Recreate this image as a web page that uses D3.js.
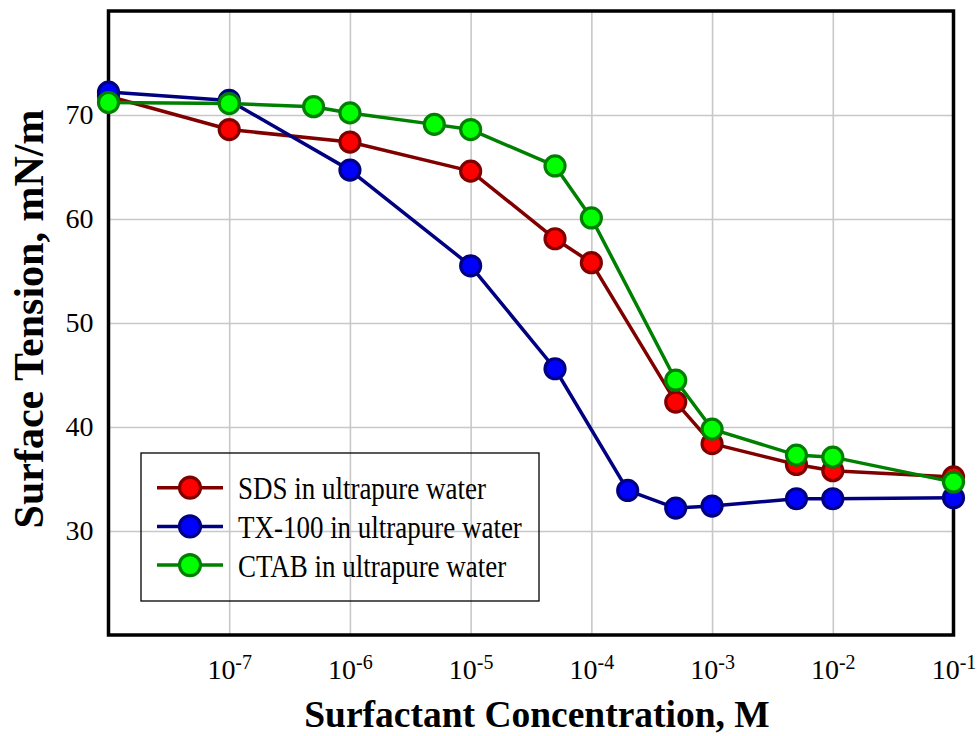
<!DOCTYPE html>
<html><head><meta charset="utf-8">
<script src="https://cdn.jsdelivr.net/npm/d3@7"></script>
<style>body{margin:0;background:#fff;} svg{display:block;}</style>
</head><body>
<svg id="chart" width="979" height="736"></svg>
<script>
// ---- data ----
const sdsConc = [1e-8, 1e-7, 1e-6, 1e-5, 5e-5, 1e-4, 5e-4, 1e-3, 5e-3, 1e-2, 1e-1];
const sdsTension = [71.8, 68.6, 67.4, 64.6, 58.1, 55.8, 42.4, 38.4, 36.4, 35.8, 35.2];
const txConc = [1e-8, 1e-7, 1e-6, 1e-5, 5e-5, 2e-4, 5e-4, 1e-3, 5e-3, 1e-2, 1e-1];
const txTension = [72.2, 71.4, 64.7, 55.5, 45.6, 33.9, 32.2, 32.4, 33.1, 33.1, 33.2];
const ctabConc = [1e-8, 1e-7, 5e-7, 1e-6, 5e-6, 1e-5, 5e-5, 1e-4, 5e-4, 1e-3, 5e-3, 1e-2, 1e-1];
const ctabTension = [71.2, 71.1, 70.8, 70.2, 69.1, 68.6, 65.1, 60.1, 44.5, 39.8, 37.3, 37.1, 34.7];
const seriesNames = ["SDS in ultrapure water", "TX-100 in ultrapure water", "CTAB in ultrapure water"];
const xTickValues = [1e-7, 1e-6, 1e-5, 1e-4, 1e-3, 1e-2, 1e-1];
const xTickExponents = ["-7", "-6", "-5", "-4", "-3", "-2", "-1"];
const yTickValues = [30, 40, 50, 60, 70];
const xTitle = "Surfactant Concentration, M";
const yTitle = "Surface Tension, mN/m";

// ---- styles ----
const lineColors = ["#800000", "#000080", "#008000"];
const fillColors = ["#ff0000", "#0000ff", "#00ff00"];
const FONT = "'Liberation Serif','Times New Roman',serif";

const series = [
  {name: seriesNames[0], pts: sdsConc.map((c, i) => [c, sdsTension[i]])},
  {name: seriesNames[1], pts: txConc.map((c, i) => [c, txTension[i]])},
  {name: seriesNames[2], pts: ctabConc.map((c, i) => [c, ctabTension[i]])}
];

const svg = d3.select("#chart");
const L = 108.5, R = 953.5, T = 11, B = 635;
const x = d3.scaleLog().domain([1e-8, 1e-1]).range([L, R]);
const y = d3.scaleLinear().domain([20, 80]).range([B, T]);

// grid
svg.append("g").attr("transform", `translate(0,${B})`)
  .call(d3.axisBottom(x).tickValues(xTickValues).tickSize(-(B - T)).tickFormat(""))
  .call(g => g.select(".domain").remove())
  .selectAll("line").attr("stroke", "#c8c8c8").attr("stroke-width", 1.6);
svg.append("g").attr("transform", `translate(${L},0)`)
  .call(d3.axisLeft(y).tickValues(yTickValues).tickSize(-(R - L)).tickFormat(""))
  .call(g => g.select(".domain").remove())
  .selectAll("line").attr("stroke", "#c8c8c8").attr("stroke-width", 1.6);

// frame
svg.append("rect").attr("x", L).attr("y", T).attr("width", R - L).attr("height", B - T)
  .attr("fill", "none").attr("stroke", "#000").attr("stroke-width", 3.5);

// x axis labels
const xAxis = svg.append("g").attr("transform", `translate(0,${B})`)
  .attr("font-family", FONT).attr("font-size", 28)
  .call(d3.axisBottom(x).tickValues(xTickValues).tickSize(0).tickPadding(24).tickFormat(""));
xAxis.attr("font-family", FONT).attr("font-size", 28);
xAxis.select(".domain").remove();
xAxis.selectAll(".tick text").each(function(d, i) {
  const t = d3.select(this).attr("fill", "#000");
  t.text(null);
  t.append("tspan").text("10");
  t.append("tspan").attr("font-size", 20).attr("dy", -10).text(xTickExponents[i]);
});

// y axis labels
const yAxis = svg.append("g").attr("transform", `translate(${L},0)`)
  .call(d3.axisLeft(y).tickValues(yTickValues).tickSize(0).tickPadding(15).tickFormat(d3.format("d")));
yAxis.attr("font-family", FONT).attr("font-size", 28);
yAxis.select(".domain").remove();
yAxis.selectAll(".tick text").attr("fill", "#000");

// series
const line = d3.line().x(d => x(d[0])).y(d => y(d[1]));
series.forEach((s, i) => {
  const g = svg.append("g");
  g.append("path").datum(s.pts).attr("d", line).attr("fill", "none")
    .attr("stroke", lineColors[i]).attr("stroke-width", 3.5).attr("stroke-linejoin", "round");
  g.selectAll("circle").data(s.pts).join("circle")
    .attr("cx", d => x(d[0])).attr("cy", d => y(d[1])).attr("r", 10)
    .attr("fill", fillColors[i]).attr("stroke", lineColors[i]).attr("stroke-width", 3.2);
});

// legend
const lg = svg.append("g");
lg.append("rect").attr("x", 141).attr("y", 453).attr("width", 398).attr("height", 148)
  .attr("fill", "none").attr("stroke", "#000").attr("stroke-width", 1.3);
series.forEach((s, i) => {
  const cy = 487.7 + i * 38.7;
  lg.append("line").attr("x1", 157).attr("x2", 223).attr("y1", cy).attr("y2", cy)
    .attr("stroke", lineColors[i]).attr("stroke-width", 3.5);
  lg.append("circle").attr("cx", 190).attr("cy", cy).attr("r", 10.5)
    .attr("fill", fillColors[i]).attr("stroke", lineColors[i]).attr("stroke-width", 3.2);
  const t = lg.append("text").attr("x", 238).attr("y", cy + 11.6)
    .attr("font-family", FONT).attr("font-size", 31).attr("fill", "#000").text(s.name);
  const w = t.node().getComputedTextLength();
  t.attr("textLength", w * 0.87).attr("lengthAdjust", "spacingAndGlyphs");
});

// titles
svg.append("text").attr("x", 537).attr("y", 726.5).attr("text-anchor", "middle")
  .attr("font-family", FONT).attr("font-weight", "bold").attr("font-size", 37.5).text(xTitle);
svg.append("text").attr("transform", "translate(43,319) rotate(-90)").attr("text-anchor", "middle")
  .attr("font-family", FONT).attr("font-weight", "bold").attr("font-size", 42).text(yTitle);
</script>
</body></html>
